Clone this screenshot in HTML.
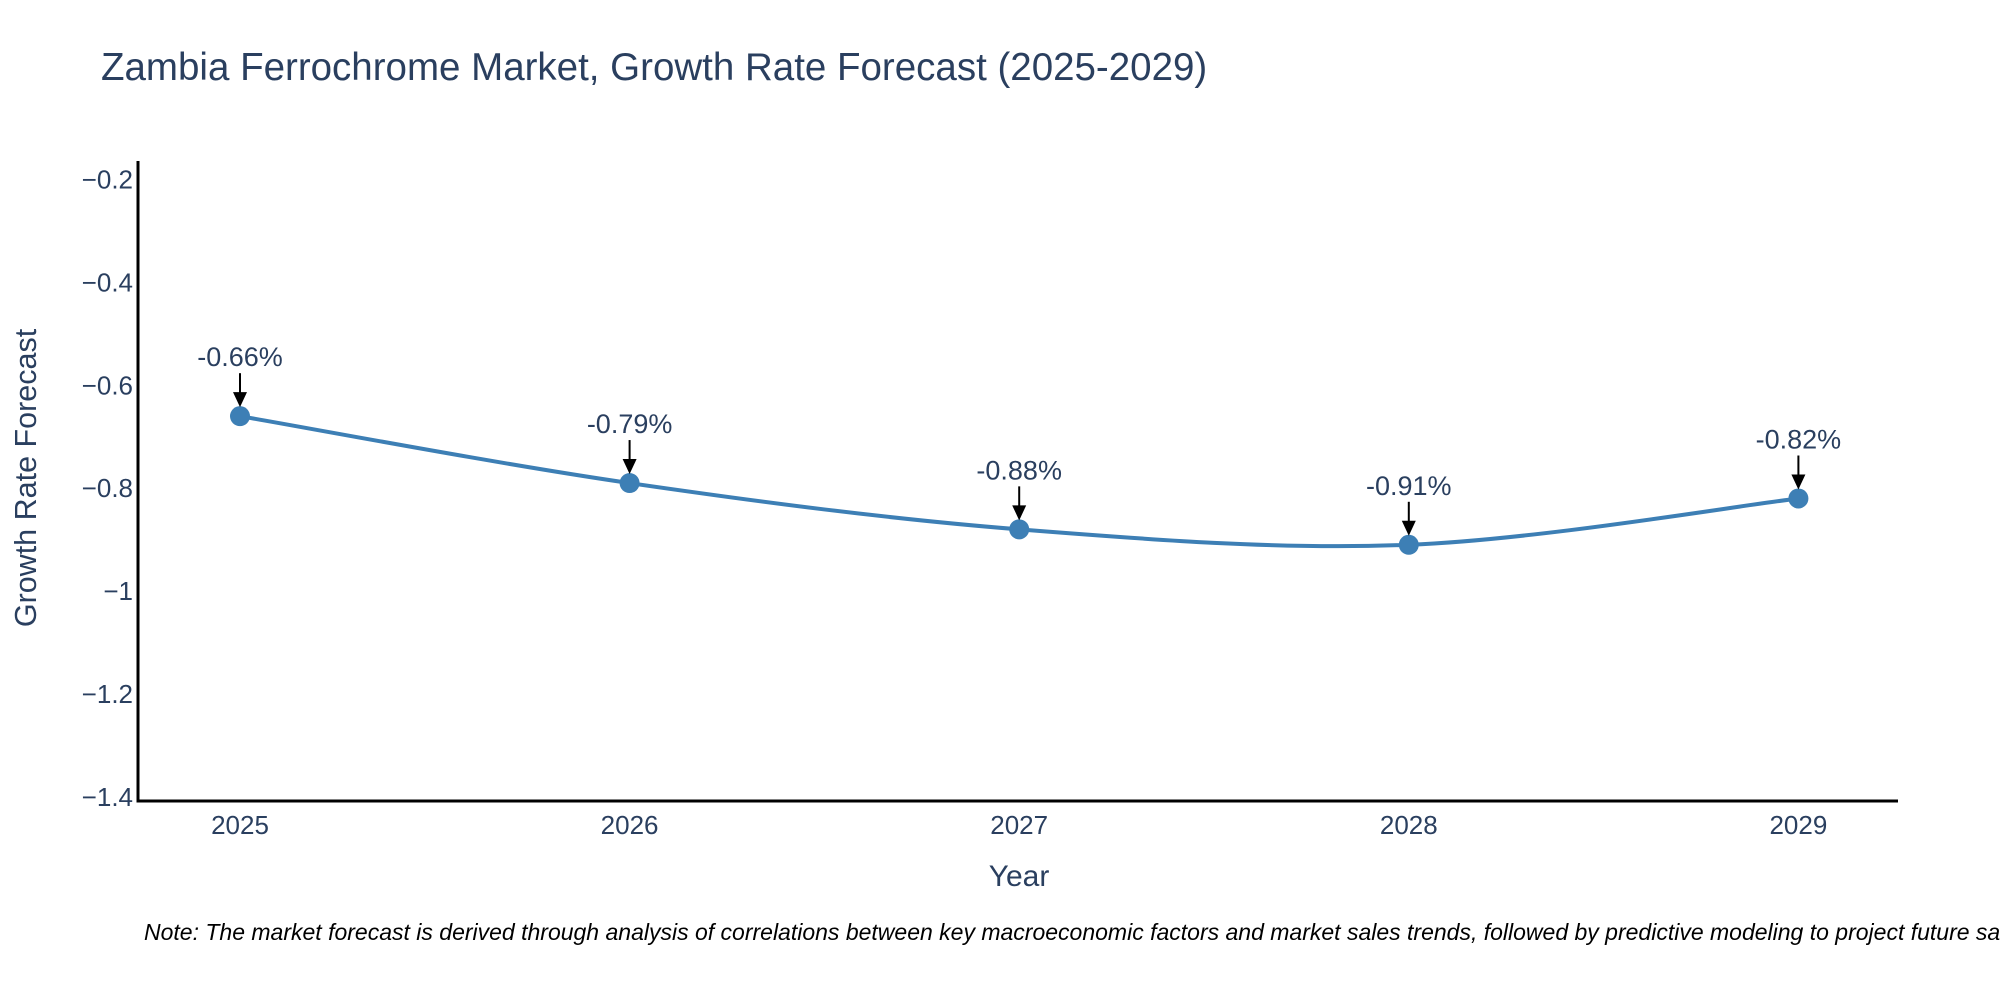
<!DOCTYPE html>
<html><head><meta charset="utf-8"><style>
body{margin:0;background:#fff;width:2000px;height:1000px;overflow:hidden;font-family:"Liberation Sans",sans-serif}
</style></head><body>
<svg id="chart" width="2000" height="1000" xmlns="http://www.w3.org/2000/svg">
<text x="101" y="80" font-size="38.5" fill="#2a3f5f">Zambia Ferrochrome Market, Growth Rate Forecast (2025-2029)</text>
<g id="axes"></g>
<g id="series"></g>
<text transform="translate(36,478) rotate(-90)" text-anchor="middle" font-size="30.5" fill="#2a3f5f">Growth Rate Forecast</text>
<text x="1019" y="886" text-anchor="middle" font-size="30" fill="#2a3f5f">Year</text>
<text x="144" y="940" font-size="23" font-style="italic" fill="#000">Note: The market forecast is derived through analysis of correlations between key macroeconomic factors and market sales trends, followed by predictive modeling to project future sales.</text>
</svg>
<script>
const years=[2025,2026,2027,2028,2029];
const values=[-0.66,-0.79,-0.88,-0.91,-0.82];
const labels=["-0.66%","-0.79%","-0.88%","-0.91%","-0.82%"];
const yTicks=[-0.2,-0.4,-0.6,-0.8,-1,-1.2,-1.4];
const yTickLabels=["\u22120.2","\u22120.4","\u22120.6","\u22120.8","\u22121","\u22121.2","\u22121.4"];
const NS="http://www.w3.org/2000/svg";
const L=138,R=1898,T=161,B=801;
const x=v=>240+(v-2025)*389.6;
const y=v=>179.5+(-0.2-v)*514.5;
function mk(tag,attrs,parent){const e=document.createElementNS(NS,tag);for(const k in attrs)e.setAttribute(k,attrs[k]);parent.appendChild(e);return e;}
const ax=document.getElementById('axes'),se=document.getElementById('series');
let a=mk('line',{x1:L,y1:T,x2:L,y2:B+1.5,stroke:'#000','stroke-width':3},ax);


a=mk('line',{x1:L-1.5,y1:B,x2:R,y2:B,stroke:'#000','stroke-width':3},ax);


yTicks.forEach((v,i)=>{const t=mk('text',{x:L-5,y:y(v)+9,'text-anchor':'end','font-size':26,fill:'#2a3f5f'},ax);t.textContent=yTickLabels[i];

});
years.forEach(v=>{const t=mk('text',{x:x(v),y:834,'text-anchor':'middle','font-size':26,fill:'#2a3f5f'},ax);t.textContent=v;

});
const pts=years.map((v,i)=>[x(v),y(values[i])]);
let d='M'+pts[0][0]+','+pts[0][1];
for(let i=0;i<pts.length-1;i++){const p0=pts[Math.max(0,i-1)],p1=pts[i],p2=pts[i+1],p3=pts[Math.min(pts.length-1,i+2)];
d+=' C'+(p1[0]+(p2[0]-p0[0])/6)+','+(p1[1]+(p2[1]-p0[1])/6)+' '+(p2[0]-(p3[0]-p1[0])/6)+','+(p2[1]-(p3[1]-p1[1])/6)+' '+p2[0]+','+p2[1];}
const line=mk('path',{d:d,fill:'none',stroke:'#3d7fb5','stroke-width':4},se);


pts.forEach((p,i)=>{
const c=mk('circle',{cx:p[0],cy:p[1],r:10,fill:'#3d7fb5'},se);


const ln=mk('line',{x1:p[0],y1:p[1]-43,x2:p[0],y2:p[1]-22,stroke:'#000','stroke-width':2},se);


const ah=mk('polygon',{points:(p[0]-7)+','+(p[1]-24)+' '+(p[0]+7)+','+(p[1]-24)+' '+p[0]+','+(p[1]-9),fill:'#000'},se);


const t=mk('text',{x:p[0],y:p[1]-50,'text-anchor':'middle','font-size':27,fill:'#2a3f5f'},se);t.textContent=labels[i];


});
</script>
</body></html>
